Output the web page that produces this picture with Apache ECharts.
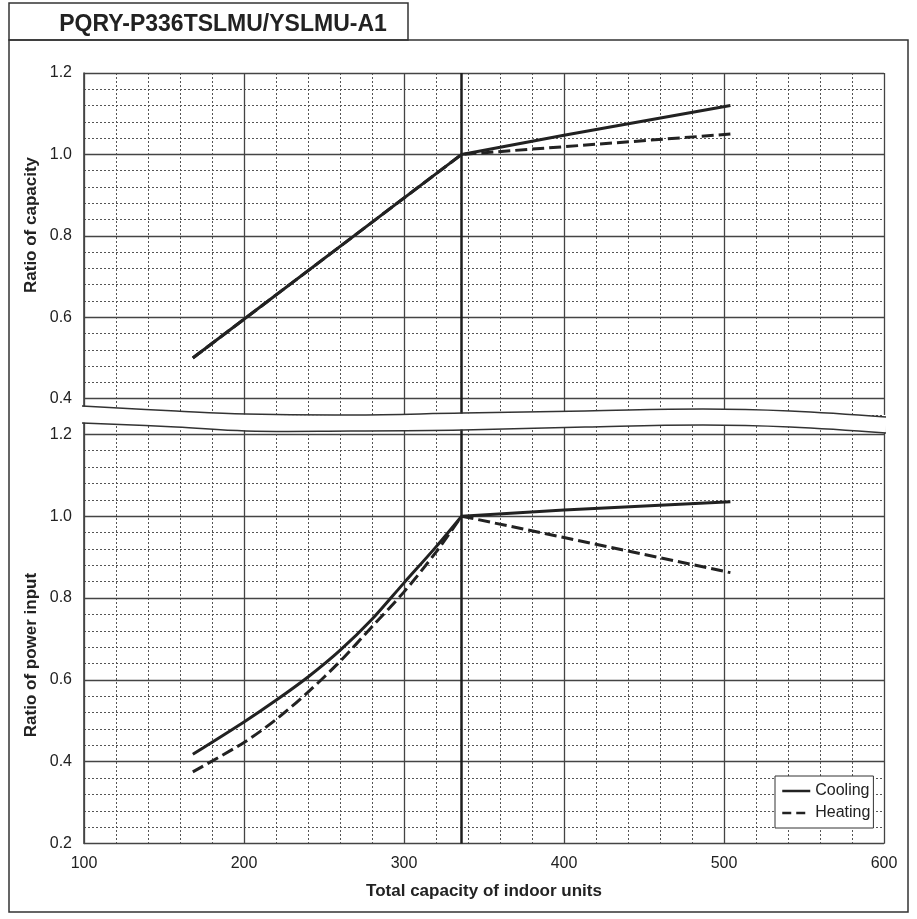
<!DOCTYPE html>
<html>
<head>
<meta charset="utf-8">
<title>PQRY-P336TSLMU/YSLMU-A1</title>
<script src="https://cdn.jsdelivr.net/npm/echarts@6/dist/echarts.min.js"></script>
<style>
  html, body { margin: 0; padding: 0; background: #fff; }
  #chart { width: 917px; height: 919px; }
</style>
</head>
<body>
<div id="chart"></div>
<script>
// ratio of capacity (top chart)
const capX = [168, 336, 400, 504];
const capCooling = [0.5, 1.0, 1.047, 1.12];
const capHeating = [0.5, 1.0, 1.019, 1.05];

// ratio of power input (bottom chart): curved part up to 336, straight after
const powCurveX = [168, 200, 220, 240, 260, 280, 300, 320, 336];
const powCoolingCurve = [0.418, 0.497, 0.55, 0.607, 0.672, 0.748, 0.837, 0.925, 1.0];
const powHeatingCurve = [0.375, 0.447, 0.503, 0.57, 0.645, 0.73, 0.815, 0.912, 1.0];
const powLineX = [336, 400, 504];
const powCoolingLine = [1.0, 1.015, 1.035];
const powHeatingLine = [1.0, 0.948, 0.862];

// major grid lines / tick labels
const xTicks = [100, 200, 300, 400, 500, 600];
const capTicks = [0.4, 0.6, 0.8, 1.0, 1.2];
const powTicks = [0.2, 0.4, 0.6, 0.8, 1.0, 1.2];
const ratedCapacity = 336;

const FONT = 'Liberation Sans, Arial, Helvetica, sans-serif';
const INK = '#222';

const pairs = (xs, ys) => xs.map((x, i) => [x, ys[i]]);
const isMajor = (v, step) => Math.abs(v / step - Math.round(v / step)) < 1e-6;

// decorative break between the two charts (pixel positions)
const waveTop = [[82, 406], [176, 411], [246, 414], [351, 415], [463, 413], [585, 411], [703, 409], [790, 411], [886, 417]];
const waveBottom = [[82, 423], [176, 427], [246, 431], [351, 431], [463, 430], [585, 427], [703, 425], [790, 427], [886, 433]];
const waveMid = waveTop.map((p, i) => [p[0], (p[1] + waveBottom[i][1]) / 2]);

const chart = echarts.init(document.getElementById('chart'));

function majorLines(yTicks) {
  const lines = xTicks.map(v => ({ xAxis: v }))
    .concat(yTicks.map(v => ({ yAxis: v })));
  lines.push({ xAxis: ratedCapacity, lineStyle: { color: '#1e1e1e', width: 2.5, type: 'solid' } });
  return {
    silent: true,
    symbol: ['none', 'none'],
    label: { show: false },
    lineStyle: { color: '#444', width: 1.3, type: 'solid' },
    emphasis: { disabled: true },
    z: 1,
    data: lines
  };
}

function xAxisOf(gridIndex, showLabels) {
  return {
    type: 'value', gridIndex: gridIndex,
    min: 100, max: 600, interval: 20,
    axisLine: { show: false },
    axisTick: { show: false },
    axisLabel: {
      show: showLabels, margin: 12,
      fontSize: 16, color: INK, fontFamily: FONT,
      formatter: v => isMajor(v, 100) ? String(v) : ''
    },
    splitLine: { show: true, lineStyle: { color: '#555', width: 1, type: [2, 2] } }
  };
}

function yAxisOf(gridIndex, min, max) {
  return {
    type: 'value', gridIndex: gridIndex,
    min: min, max: max, interval: 0.04,
    axisLine: { show: true, lineStyle: { color: '#333', width: 1.5 } },
    axisTick: { show: false },
    axisLabel: {
      margin: 12, fontSize: 16, color: INK, fontFamily: FONT,
      formatter: v => isMajor(v, 0.2) && v < 1.2 + 1e-6 ? v.toFixed(1) : ''
    },
    splitLine: { show: true, lineStyle: { color: '#555', width: 1, type: [2, 2] } }
  };
}

const solid = { color: INK, width: 3, type: 'solid' };
const dashed = { color: INK, width: 3, type: [12, 5] };

function curve(name, gridIndex, data, style, smooth, z) {
  return {
    name: name, type: 'line',
    xAxisIndex: gridIndex, yAxisIndex: gridIndex,
    data: data, smooth: smooth,
    symbol: 'none', lineStyle: style, itemStyle: { color: INK },
    z: z, silent: true
  };
}

chart.setOption({
  animation: false,
  backgroundColor: '#fff',
  title: {
    text: 'PQRY-P336TSLMU/YSLMU-A1',
    left: 218, top: 8, textAlign: 'center',
    textStyle: { fontSize: 23, fontWeight: 'bold', color: INK, fontFamily: FONT }
  },
  grid: [
    { left: 84, top: 73, width: 800, height: 342 },
    { left: 84, top: 418, width: 800, height: 425.5 }
  ],
  xAxis: [xAxisOf(0, false), xAxisOf(1, true)],
  yAxis: [yAxisOf(0, 0.36, 1.2), yAxisOf(1, 0.2, 1.24)],
  legend: {
    orient: 'vertical',
    left: 775, top: 776,
    data: [
      { name: 'Cooling', itemStyle: { opacity: 0 }, lineStyle: { color: INK, width: 2.5, type: 'solid' } },
      { name: 'Heating', itemStyle: { opacity: 0 }, lineStyle: { color: INK, width: 2.5, type: [9, 5] } }
    ],
    backgroundColor: '#fff',
    borderColor: '#333', borderWidth: 1,
    padding: [7, 3, 7, 6],
    itemGap: 6, itemWidth: 28, itemHeight: 14,
    textStyle: { fontSize: 16, color: INK, fontFamily: FONT },
    selectedMode: false
  },
  series: [
    { type: 'line', xAxisIndex: 0, yAxisIndex: 0, data: [], markLine: majorLines(capTicks), z: 1 },
    curve('Heating', 0, pairs(capX, capHeating), dashed, false, 5),
    curve('Cooling', 0, pairs(capX, capCooling), solid, false, 6),
    { type: 'line', xAxisIndex: 1, yAxisIndex: 1, data: [], markLine: majorLines(powTicks), z: 1 },
    curve('Cooling', 1, pairs(powCurveX, powCoolingCurve), solid, 0.3, 6),
    curve('Cooling', 1, pairs(powLineX, powCoolingLine), solid, false, 6),
    curve('Heating', 1, pairs(powCurveX, powHeatingCurve), dashed, 0.3, 5),
    curve('Heating', 1, pairs(powLineX, powHeatingLine), dashed, false, 5)
  ],
  graphic: [
    { type: 'rect', z: 100, shape: { x: 9, y: 40, width: 899, height: 872 },
      style: { fill: 'none', stroke: '#333', lineWidth: 1.5 } },
    { type: 'rect', z: 100, shape: { x: 9, y: 3, width: 399, height: 37 },
      style: { fill: 'none', stroke: '#333', lineWidth: 1.5 } },
    { type: 'polyline', z: 100, shape: { points: waveMid, smooth: 0.4 },
      style: { stroke: '#fff', lineWidth: 16, fill: 'none' } },
    { type: 'polyline', z: 101, shape: { points: waveTop, smooth: 0.4 },
      style: { stroke: '#333', lineWidth: 1.5, fill: 'none' } },
    { type: 'polyline', z: 101, shape: { points: waveBottom, smooth: 0.4 },
      style: { stroke: '#333', lineWidth: 1.5, fill: 'none' } },
    { type: 'text', z: 101, x: 31, y: 225, rotation: Math.PI / 2,
      style: { text: 'Ratio of capacity', fontSize: 17, fontWeight: 'bold', fontFamily: FONT,
               fill: INK, align: 'center', verticalAlign: 'middle' } },
    { type: 'text', z: 101, x: 31, y: 655, rotation: Math.PI / 2,
      style: { text: 'Ratio of power input', fontSize: 17, fontWeight: 'bold', fontFamily: FONT,
               fill: INK, align: 'center', verticalAlign: 'middle' } },
    { type: 'text', z: 101, x: 484, y: 891,
      style: { text: 'Total capacity of indoor units', fontSize: 17, fontWeight: 'bold', fontFamily: FONT,
               fill: INK, align: 'center', verticalAlign: 'middle' } }
  ]
});
</script>
</body>
</html>
